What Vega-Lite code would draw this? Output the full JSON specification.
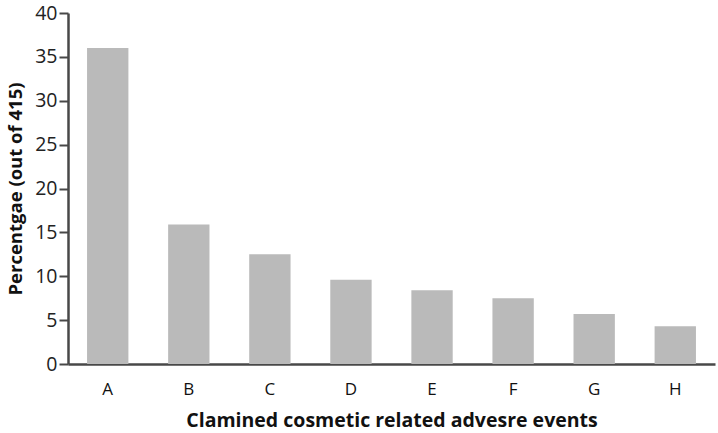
{
  "$schema": "https://vega.github.io/schema/vega-lite/v6.json",
  "width": 647,
  "height": 351,
  "autosize": "none",
  "padding": {"left": 68, "top": 13, "right": 3, "bottom": 69},
  "background": "white",
  "config": {"view": {"stroke": null}},
  "data": {
    "values": [
      {"event": "A", "pct": 36},
      {"event": "B", "pct": 15.9},
      {"event": "C", "pct": 12.5},
      {"event": "D", "pct": 9.6},
      {"event": "E", "pct": 8.4},
      {"event": "F", "pct": 7.5},
      {"event": "G", "pct": 5.7},
      {"event": "H", "pct": 4.3}
    ]
  },
  "mark": {"type": "bar", "color": "#bababa"},
  "encoding": {
    "x": {
      "field": "event",
      "type": "nominal",
      "sort": null,
      "scale": {"paddingInner": 0.49, "paddingOuter": 0.235},
      "axis": {
        "title": "Clamined cosmetic related advesre events",
        "titleFont": "Open Sans",
        "titleFontSize": 19.5,
        "titleFontWeight": "bold",
        "titleColor": "#111",
        "titlePadding": 14,
        "labelAngle": 0,
        "labelFont": "Open Sans",
        "labelFontSize": 17,
        "labelColor": "#111",
        "labelPadding": 17,
        "ticks": false,
        "domainColor": "#484848",
        "domainWidth": 2.5
      }
    },
    "y": {
      "field": "pct",
      "type": "quantitative",
      "scale": {"domain": [0, 40]},
      "axis": {
        "title": "Percentgae (out of 415)",
        "titleFont": "Open Sans",
        "titleFontSize": 18.5,
        "titleFontWeight": "bold",
        "titleColor": "#111",
        "titlePadding": 9,
        "values": [0, 5, 10, 15, 20, 25, 30, 35, 40],
        "grid": false,
        "labelFont": "Open Sans",
        "labelFontSize": 19.5,
        "labelColor": "#222",
        "labelPadding": 2,
        "tickSize": 9,
        "tickColor": "#484848",
        "tickWidth": 2,
        "domainColor": "#484848",
        "domainWidth": 2.5
      }
    }
  }
}
